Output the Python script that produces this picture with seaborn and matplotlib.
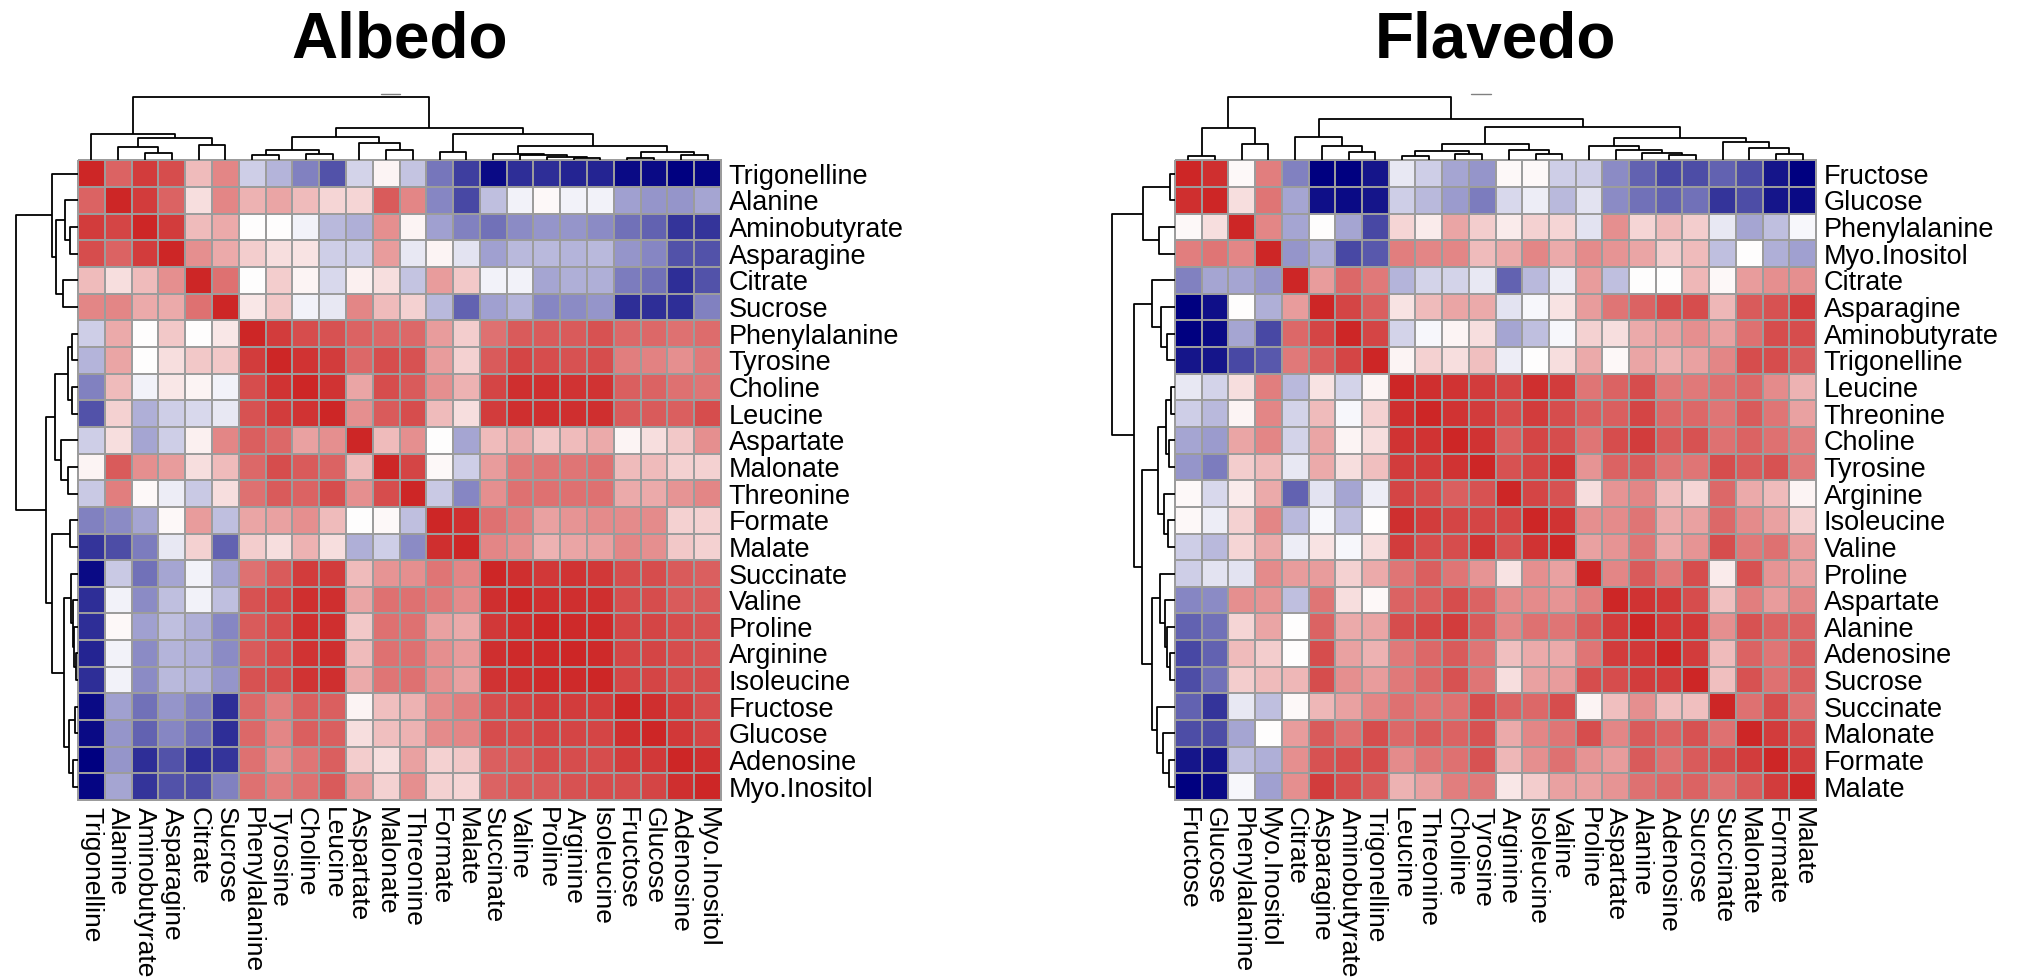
import numpy as np
import pandas as pd
import matplotlib
matplotlib.use("Agg")
import matplotlib.pyplot as plt
import seaborn as sns
from matplotlib.colors import LinearSegmentedColormap

# ---------------- data ----------------
albedo_labels = ["Trigonelline", "Alanine", "Aminobutyrate", "Asparagine", "Citrate", "Sucrose",
                 "Phenylalanine", "Tyrosine", "Choline", "Leucine", "Aspartate", "Malonate",
                 "Threonine", "Formate", "Malate", "Succinate", "Valine", "Proline", "Arginine",
                 "Isoleucine", "Fructose", "Glucose", "Adenosine", "Myo.Inositol"]

albedo_corr = [
    [1.00, 0.70, 0.88, 0.80, 0.30, 0.55, -0.20, -0.30, -0.50, -0.67, -0.18, 0.04, -0.24, -0.53, -0.75, -0.95, -0.82, -0.82, -0.85, -0.85, -0.95, -0.95, -1.00, -0.97],
    [0.70, 1.00, 0.88, 0.70, 0.15, 0.55, 0.35, 0.40, 0.30, 0.18, 0.18, 0.75, 0.55, -0.48, -0.72, -0.25, -0.05, 0.02, -0.05, -0.05, -0.38, -0.42, -0.42, -0.35],
    [0.88, 0.85, 1.00, 0.88, 0.30, 0.38, 0.00, 0.00, -0.05, -0.28, -0.32, 0.50, 0.04, -0.38, -0.50, -0.55, -0.45, -0.42, -0.42, -0.45, -0.55, -0.62, -0.78, -0.78],
    [0.80, 0.70, 0.88, 1.00, 0.50, 0.38, 0.22, 0.15, 0.12, -0.20, -0.20, 0.45, -0.10, 0.04, -0.12, -0.38, -0.28, -0.28, -0.30, -0.28, -0.42, -0.48, -0.67, -0.67],
    [0.30, 0.15, 0.30, 0.50, 1.00, 0.65, 0.00, 0.22, 0.05, -0.15, 0.06, 0.14, -0.24, 0.45, 0.24, -0.05, -0.05, -0.35, -0.32, -0.32, -0.52, -0.55, -0.80, -0.67],
    [0.55, 0.55, 0.38, 0.38, 0.65, 1.00, 0.10, 0.25, -0.05, -0.10, 0.55, 0.30, 0.20, -0.28, -0.62, -0.38, -0.30, -0.48, -0.45, -0.42, -0.82, -0.80, -0.80, -0.50],
    [-0.20, 0.38, 0.00, 0.25, 0.00, 0.10, 1.00, 0.88, 0.82, 0.78, 0.70, 0.68, 0.68, 0.45, 0.22, 0.65, 0.75, 0.75, 0.75, 0.78, 0.68, 0.68, 0.65, 0.67],
    [-0.30, 0.40, 0.00, 0.15, 0.25, 0.25, 0.88, 1.00, 0.92, 0.88, 0.68, 0.80, 0.78, 0.45, 0.20, 0.75, 0.85, 0.80, 0.78, 0.82, 0.58, 0.57, 0.50, 0.60],
    [-0.50, 0.30, -0.05, 0.10, 0.05, -0.05, 0.82, 0.92, 1.00, 0.92, 0.40, 0.80, 0.75, 0.50, 0.35, 0.85, 0.95, 0.95, 0.92, 0.92, 0.72, 0.70, 0.65, 0.62],
    [-0.67, 0.20, -0.32, -0.20, -0.15, -0.10, 0.78, 0.88, 0.92, 1.00, 0.50, 0.75, 0.80, 0.30, 0.15, 0.88, 0.95, 0.95, 0.95, 0.95, 0.75, 0.75, 0.72, 0.80],
    [-0.20, 0.15, -0.35, -0.20, 0.07, 0.55, 0.72, 0.68, 0.42, 0.50, 1.00, 0.30, 0.50, 0.00, -0.35, 0.30, 0.38, 0.25, 0.30, 0.38, 0.05, 0.15, 0.25, 0.50],
    [0.05, 0.75, 0.50, 0.45, 0.15, 0.30, 0.68, 0.80, 0.75, 0.70, 0.30, 1.00, 0.85, 0.02, -0.20, 0.45, 0.60, 0.62, 0.62, 0.65, 0.30, 0.30, 0.20, 0.20],
    [-0.22, 0.58, 0.03, -0.08, -0.22, 0.15, 0.65, 0.75, 0.70, 0.80, 0.50, 0.80, 1.00, -0.22, -0.48, 0.50, 0.65, 0.65, 0.65, 0.65, 0.38, 0.38, 0.48, 0.55],
    [-0.50, -0.45, -0.35, 0.03, 0.45, -0.25, 0.40, 0.42, 0.50, 0.30, 0.00, 0.03, -0.25, 1.00, 0.95, 0.65, 0.58, 0.42, 0.48, 0.52, 0.52, 0.52, 0.20, 0.20],
    [-0.78, -0.70, -0.52, -0.10, 0.20, -0.62, 0.22, 0.15, 0.35, 0.15, -0.32, -0.20, -0.45, 0.95, 1.00, 0.55, 0.50, 0.35, 0.40, 0.42, 0.55, 0.50, 0.25, 0.20],
    [-0.95, -0.22, -0.55, -0.35, -0.05, -0.35, 0.65, 0.75, 0.88, 0.88, 0.30, 0.48, 0.50, 0.62, 0.55, 1.00, 0.95, 0.90, 0.92, 0.90, 0.80, 0.80, 0.75, 0.72],
    [-0.82, -0.05, -0.45, -0.25, -0.05, -0.25, 0.78, 0.85, 0.95, 0.95, 0.40, 0.65, 0.65, 0.60, 0.52, 0.95, 1.00, 0.95, 0.95, 0.95, 0.82, 0.82, 0.75, 0.75],
    [-0.80, 0.02, -0.38, -0.25, -0.32, -0.48, 0.75, 0.80, 0.95, 0.95, 0.25, 0.65, 0.65, 0.42, 0.38, 0.90, 0.95, 1.00, 0.97, 0.97, 0.85, 0.85, 0.80, 0.78],
    [-0.85, -0.05, -0.45, -0.30, -0.32, -0.45, 0.75, 0.80, 0.92, 0.95, 0.30, 0.65, 0.65, 0.50, 0.45, 0.95, 0.97, 0.97, 1.00, 0.97, 0.85, 0.85, 0.80, 0.78],
    [-0.82, -0.05, -0.45, -0.28, -0.30, -0.42, 0.78, 0.82, 0.92, 0.95, 0.38, 0.62, 0.65, 0.50, 0.42, 0.92, 0.95, 0.97, 0.97, 1.00, 0.85, 0.85, 0.82, 0.80],
    [-0.95, -0.38, -0.55, -0.42, -0.50, -0.82, 0.68, 0.58, 0.72, 0.72, 0.05, 0.28, 0.35, 0.52, 0.58, 0.82, 0.85, 0.88, 0.88, 0.88, 1.00, 0.95, 0.88, 0.82],
    [-0.95, -0.42, -0.62, -0.48, -0.55, -0.80, 0.68, 0.55, 0.72, 0.72, 0.15, 0.28, 0.35, 0.52, 0.55, 0.82, 0.82, 0.85, 0.85, 0.85, 0.95, 1.00, 0.90, 0.85],
    [-1.00, -0.42, -0.80, -0.67, -0.82, -0.78, 0.65, 0.50, 0.62, 0.72, 0.22, 0.15, 0.42, 0.20, 0.25, 0.72, 0.75, 0.80, 0.82, 0.82, 0.88, 0.90, 1.00, 0.95],
    [-0.97, -0.35, -0.78, -0.67, -0.70, -0.50, 0.65, 0.58, 0.65, 0.75, 0.45, 0.20, 0.50, 0.20, 0.18, 0.70, 0.75, 0.75, 0.78, 0.80, 0.82, 0.85, 0.95, 1.00],
]

flavedo_labels = ["Fructose", "Glucose", "Phenylalanine", "Myo.Inositol", "Citrate", "Asparagine",
                  "Aminobutyrate", "Trigonelline", "Leucine", "Threonine", "Choline", "Tyrosine",
                  "Arginine", "Isoleucine", "Valine", "Proline", "Aspartate", "Alanine", "Adenosine",
                  "Sucrose", "Succinate", "Malonate", "Formate", "Malate"]

flavedo_corr = [
    [1.00, 0.95, 0.03, 0.58, -0.50, -1.00, -1.00, -0.90, -0.10, -0.20, -0.35, -0.42, 0.03, 0.02, -0.20, -0.20, -0.45, -0.62, -0.72, -0.68, -0.62, -0.70, -0.90, -1.00],
    [0.95, 1.00, 0.15, 0.62, -0.35, -0.92, -0.95, -0.90, -0.20, -0.28, -0.40, -0.52, -0.15, -0.08, -0.28, -0.12, -0.45, -0.55, -0.62, -0.55, -0.78, -0.68, -0.90, -0.95],
    [0.03, 0.15, 1.00, 0.55, -0.35, 0.00, -0.35, -0.72, 0.18, 0.08, 0.40, 0.22, 0.08, 0.20, 0.18, -0.12, 0.50, 0.18, 0.30, 0.22, -0.10, -0.35, -0.25, -0.03],
    [0.58, 0.62, 0.55, 1.00, -0.42, -0.32, -0.72, -0.65, 0.58, 0.55, 0.55, 0.30, 0.38, 0.55, 0.38, 0.52, 0.48, 0.40, 0.22, 0.30, -0.25, 0.00, -0.32, -0.38],
    [-0.50, -0.35, -0.35, -0.42, 1.00, 0.45, 0.68, 0.60, -0.30, -0.18, -0.18, -0.10, -0.62, -0.28, -0.08, 0.45, -0.25, 0.00, 0.00, 0.32, 0.03, 0.45, 0.50, 0.50],
    [-1.00, -0.92, 0.00, -0.32, 0.45, 1.00, 0.85, 0.72, 0.12, 0.30, 0.40, 0.38, -0.12, -0.03, 0.12, 0.45, 0.62, 0.70, 0.80, 0.80, 0.32, 0.75, 0.78, 0.88],
    [-1.00, -0.95, -0.35, -0.72, 0.68, 0.85, 1.00, 0.85, -0.18, -0.03, 0.05, 0.15, -0.35, -0.25, -0.03, 0.20, 0.15, 0.38, 0.42, 0.50, 0.42, 0.65, 0.80, 0.80],
    [-0.90, -0.90, -0.72, -0.65, 0.60, 0.72, 0.85, 1.00, 0.05, 0.20, 0.15, 0.28, -0.08, 0.00, 0.15, 0.38, 0.03, 0.40, 0.35, 0.42, 0.55, 0.80, 0.82, 0.75],
    [-0.10, -0.18, 0.15, 0.58, -0.28, 0.12, -0.18, 0.05, 1.00, 0.95, 0.92, 0.88, 0.85, 0.95, 0.88, 0.62, 0.70, 0.80, 0.60, 0.60, 0.65, 0.68, 0.52, 0.35],
    [-0.20, -0.28, 0.05, 0.55, -0.18, 0.30, -0.03, 0.20, 0.95, 1.00, 0.92, 0.88, 0.80, 0.88, 0.82, 0.72, 0.72, 0.85, 0.68, 0.68, 0.62, 0.75, 0.62, 0.42],
    [-0.35, -0.40, 0.40, 0.55, -0.18, 0.40, 0.05, 0.15, 0.92, 0.92, 1.00, 0.92, 0.72, 0.85, 0.82, 0.62, 0.82, 0.88, 0.75, 0.78, 0.65, 0.70, 0.65, 0.58],
    [-0.42, -0.52, 0.22, 0.30, -0.10, 0.38, 0.15, 0.28, 0.88, 0.88, 0.92, 1.00, 0.78, 0.85, 0.92, 0.48, 0.70, 0.75, 0.62, 0.62, 0.82, 0.75, 0.78, 0.60],
    [0.03, -0.15, 0.08, 0.38, -0.62, -0.12, -0.35, -0.08, 0.85, 0.80, 0.72, 0.78, 1.00, 0.85, 0.78, 0.15, 0.48, 0.55, 0.28, 0.18, 0.68, 0.38, 0.30, 0.05],
    [0.02, -0.08, 0.20, 0.55, -0.28, -0.03, -0.25, 0.00, 0.95, 0.88, 0.85, 0.85, 0.85, 1.00, 0.92, 0.50, 0.52, 0.62, 0.38, 0.42, 0.68, 0.52, 0.42, 0.20],
    [-0.20, -0.28, 0.18, 0.38, -0.08, 0.12, -0.03, 0.15, 0.88, 0.82, 0.82, 0.92, 0.78, 0.92, 1.00, 0.42, 0.48, 0.62, 0.38, 0.48, 0.82, 0.60, 0.65, 0.45],
    [-0.20, -0.12, -0.12, 0.52, 0.45, 0.45, 0.20, 0.38, 0.62, 0.72, 0.62, 0.48, 0.12, 0.50, 0.42, 1.00, 0.55, 0.75, 0.60, 0.80, 0.08, 0.78, 0.48, 0.42],
    [-0.48, -0.45, 0.50, 0.48, -0.25, 0.62, 0.15, 0.03, 0.70, 0.72, 0.82, 0.70, 0.52, 0.52, 0.48, 0.58, 1.00, 0.92, 0.90, 0.82, 0.28, 0.58, 0.45, 0.55],
    [-0.62, -0.55, 0.18, 0.40, 0.00, 0.70, 0.38, 0.40, 0.80, 0.85, 0.88, 0.75, 0.55, 0.65, 0.62, 0.75, 0.88, 1.00, 0.90, 0.90, 0.50, 0.78, 0.70, 0.70],
    [-0.72, -0.62, 0.30, 0.22, 0.00, 0.80, 0.42, 0.35, 0.60, 0.68, 0.75, 0.62, 0.28, 0.38, 0.38, 0.62, 0.88, 0.90, 1.00, 0.88, 0.30, 0.70, 0.62, 0.72],
    [-0.68, -0.55, 0.22, 0.30, 0.32, 0.80, 0.50, 0.45, 0.60, 0.68, 0.78, 0.62, 0.15, 0.42, 0.45, 0.80, 0.82, 0.88, 0.88, 1.00, 0.28, 0.78, 0.65, 0.72],
    [-0.62, -0.78, -0.10, -0.25, 0.03, 0.32, 0.42, 0.55, 0.65, 0.62, 0.65, 0.82, 0.70, 0.68, 0.82, 0.05, 0.28, 0.50, 0.28, 0.28, 1.00, 0.65, 0.80, 0.65],
    [-0.70, -0.68, -0.35, 0.00, 0.45, 0.75, 0.65, 0.80, 0.68, 0.75, 0.70, 0.78, 0.38, 0.55, 0.62, 0.80, 0.55, 0.75, 0.70, 0.78, 0.65, 1.00, 0.88, 0.80],
    [-0.90, -0.90, -0.25, -0.32, 0.50, 0.78, 0.80, 0.82, 0.52, 0.62, 0.65, 0.78, 0.32, 0.50, 0.65, 0.48, 0.45, 0.75, 0.65, 0.75, 0.82, 0.88, 1.00, 0.88],
    [-1.00, -0.95, -0.03, -0.38, 0.50, 0.88, 0.80, 0.75, 0.35, 0.42, 0.58, 0.60, 0.10, 0.22, 0.42, 0.42, 0.48, 0.65, 0.68, 0.70, 0.65, 0.75, 0.88, 1.00],
]

# clustering trees (height, left, right); leaves = position in the ordered labels
albedo_tree = (190,
               (78, 0, (66, (41, 1, (23, 2, 3)), (46, 4, 5))),
               (98,
                (70, (30, (17, 6, 7), (18, 8, 9)), (53, 10, (31, 11, 12))),
                (80, (24, 13, 14),
                 (44, (20, 15, (15, 16, (11, 17, (6, 18, 19)))),
                  (26, (8, 20, 21), (15, 22, 23))))))

flavedo_tree = (190,
                (97, (14, 0, 1), (48, 2, 3)),
                (124,
                 (70, 4, (42, 5, (24, 6, 7))),
                 (100,
                  (50, (27, (13, 8, 9), (19, 10, 11)), (32, 12, (20, 13, 14))),
                  (68, (44, 15, (31, 16, (23, 17, (15, 18, 19)))),
                   (54, 20, (37, 21, (19, 22, 23)))))))

titles = ["Albedo", "Flavedo"]

# ---------------- style ----------------
sns.set_style("white")
plt.rcParams["font.family"] = ["Liberation Sans", "DejaVu Sans"]
plt.rcParams["text.color"] = "black"
plt.rcParams["xtick.color"] = "black"
plt.rcParams["ytick.color"] = "black"
plt.rcParams["axes.labelcolor"] = "black"

W, H = 2029, 980
fig = plt.figure(figsize=(W / 100, H / 100), dpi=100)

cmap = LinearSegmentedColormap.from_list("nwf", ["#000080", "#FFFFFF", "#CD2626"], N=100)


def draw_tree(ax, node, orient):
    if isinstance(node, int):
        return node + 0.5, 0.0
    h, left, right = node
    xl, hl = draw_tree(ax, left, orient)
    xr, hr = draw_tree(ax, right, orient)
    pos = [xl, xl, xr, xr]
    hts = [hl, h, h, hr]
    if orient == "top":
        ax.plot(pos, hts, color="black", lw=1.3, clip_on=False, solid_capstyle="butt")
    else:
        ax.plot(hts, pos, color="black", lw=1.3, clip_on=False, solid_capstyle="butt")
    return (xl + xr) / 2, h


panels = [
    (albedo_labels, albedo_corr, albedo_tree, 78, 721, 15.7, 11.3, 12.0),
    (flavedo_labels, flavedo_corr, flavedo_tree, 1175, 1816, 1112, 11.07, 11.85),
]

hm_top, hm_bot = 160.5, 800.0
dendro_top = 96.7

for (labels, corr, tree, x0, x1, lroot, d0, d1), title in zip(panels, titles):
    df = pd.DataFrame(np.array(corr), index=labels, columns=labels)
    ax = fig.add_axes([x0 / W, 1 - hm_bot / H, (x1 - x0) / W, (hm_bot - hm_top) / H])
    sns.heatmap(df, ax=ax, cmap=cmap, vmin=-1, vmax=1, cbar=False,
                linewidths=1.1, linecolor="#9C9C9C",
                xticklabels=labels, yticklabels=labels)
    ax.collections[0].set_clip_on(False)
    ax.yaxis.tick_right()
    ax.tick_params(axis="both", length=0, colors="black")
    ax.tick_params(axis="y", pad=5.5)
    ax.tick_params(axis="x", pad=5)
    ax.set_yticklabels(labels, rotation=0, ha="left", fontsize=19.5, color="black")
    ax.set_xticklabels(labels, rotation=270, ha="center", va="top", fontsize=19, color="black")
    ax.set_xlabel("")
    ax.set_ylabel("")

    root_h = tree[0]
    # top dendrogram
    axt = fig.add_axes([x0 / W, 1 - hm_top / H, (x1 - x0) / W, (hm_top - dendro_top) / H])
    draw_tree(axt, tree, "top")
    axt.set_xlim(0, len(labels))
    axt.set_ylim(0, root_h)
    axt.plot([d0, d1], [root_h * 1.042, root_h * 1.042], color="#808080", lw=1.0, clip_on=False)
    axt.axis("off")

    # left dendrogram
    axl = fig.add_axes([lroot / W, 1 - hm_bot / H, (x0 - lroot) / W, (hm_bot - hm_top) / H])
    draw_tree(axl, tree, "left")
    axl.set_ylim(len(labels), 0)
    axl.set_xlim(root_h, 0)
    axl.axis("off")

    fig.text((x0 + x1) / 2 / W, 1 - 57 / H, title, ha="center", va="baseline",
             fontsize=46, fontweight="bold", color="black")

fig.savefig("out.png", dpi=100)
